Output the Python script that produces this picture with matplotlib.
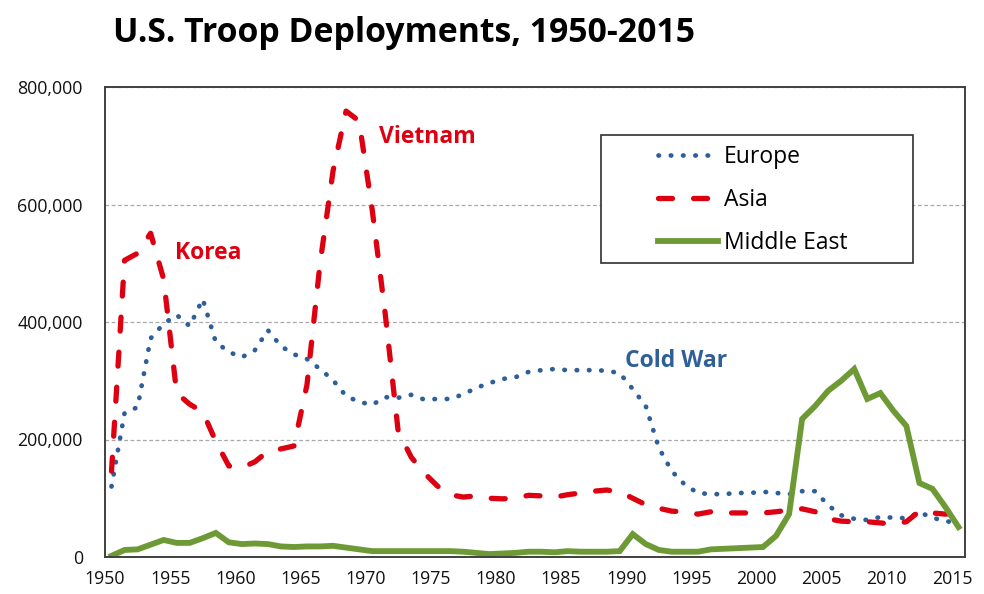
import numpy as np
import matplotlib
matplotlib.use("Agg")
import matplotlib.pyplot as plt
from matplotlib.patches import Rectangle

# Troop counts by region (thousands)
years = np.arange(1950, 2016)
europe = [120, 245, 255, 372, 397, 412, 393, 439, 366, 349,
          340, 352, 386, 359, 345, 337, 320, 301, 274, 264,
          259, 272, 271, 276, 268, 269, 269, 277, 288, 296,
          303, 306, 315, 318, 320, 318, 318, 318, 317, 313,
          286, 257, 186, 146, 123, 109, 107, 107, 109, 109,
          111, 109, 107, 112, 112, 88, 71, 65, 63, 68,
          67, 66, 76, 67, 61, 58]
asia = [146, 505, 517, 551, 473, 279, 260, 247, 197, 155,
        152, 162, 180, 184, 189, 293, 499, 657, 759, 742,
        592, 415, 214, 170, 143, 121, 106, 102, 104, 100,
        99, 100, 105, 104, 102, 106, 109, 112, 114, 111,
        100, 89, 83, 78, 77, 73, 77, 75, 75, 75,
        75, 77, 80, 82, 77, 65, 61, 60, 60, 58,
        56, 60, 78, 75, 73, 75]
middle_east = [2, 12, 13, 21, 29, 24, 24, 32, 41, 25,
               22, 23, 22, 18, 17, 18, 18, 19, 16, 13,
               10, 10, 10, 10, 10, 10, 10, 9, 7, 5,
               6, 7, 9, 9, 8, 10, 9, 9, 9, 10,
               39, 22, 12, 9, 9, 9, 13, 14, 15, 16,
               17, 36, 73, 235, 257, 283, 300, 320, 269, 279,
               249, 223, 126, 116, 85, 51]

series_names = ["Europe", "Asia", "Middle East"]
blue = "#2F5F98"
red = "#DD0010"
green = "#6E9A35"

plt.rcParams["font.family"] = ["Open Sans", "DejaVu Sans"]

fig = plt.figure(figsize=(9.84, 5.94), dpi=100)
ax = fig.add_axes([105 / 984, 1 - 557 / 594, 860 / 984, 470 / 594])

# points sit in the middle of each year slot
x = years + 0.5
ax.plot(x, np.array(europe) * 1000, color=blue, lw=3.4,
        linestyle=(0, (0.1, 2.5)), dash_capstyle="round", label=series_names[0])
ax.plot(x, np.array(asia) * 1000, color=red, lw=3.8,
        linestyle=(0, (2.65, 4.0)), dash_capstyle="round", label=series_names[1])
ax.plot(x, np.array(middle_east) * 1000, color=green, lw=4.2,
        solid_joinstyle="miter", label=series_names[2])

ax.set_xlim(1950, 2016)
ax.set_ylim(0, 800000)
ax.set_xticks(range(1950, 2016, 5))
ax.set_xticks(range(1960, 2011, 10), minor=True)
ax.set_yticks(range(0, 800001, 200000))
ax.yaxis.set_major_formatter(matplotlib.ticker.FuncFormatter(lambda v, p: f"{int(v):,}"))
ax.tick_params(axis="both", which="both", length=0, labelsize=12.8, colors="#111111")
ax.tick_params(axis="y", pad=16)
ax.tick_params(axis="x", pad=9)
ax.grid(axis="y", which="major", color="#A8A8A8", lw=0.9, linestyle=(0, (3, 2)))
ax.grid(axis="x", which="minor", color="#A8A8A8", lw=0.9, linestyle=(0, (3, 2)))
for s in ax.spines.values():
    s.set_color("#404040")
    s.set_linewidth(1.4)

# annotations
ax.text(1955.4, 517000, "Korea", color=red, fontsize=16.5, fontweight="bold", ha="left", va="center")
ax.text(1971.0, 715000, "Vietnam", color=red, fontsize=16.5, fontweight="bold", ha="left", va="center")
ax.text(1989.9, 334000, "Cold War", color=blue, fontsize=16.5, fontweight="bold", ha="left", va="center")

# legend box
ax.add_patch(Rectangle((496 / 860, (557 - 263) / 470), 312 / 860, 128 / 470,
                       transform=ax.transAxes, facecolor="white", edgecolor="#303030",
                       lw=1.2, zorder=5))
leg = ax.legend(loc="center left", bbox_to_anchor=((658 - 105) / 860, (557 - 200) / 470),
                frameon=False, fontsize=16.5, handlelength=2.6, handletextpad=0.26,
                labelspacing=0.82, borderpad=0, borderaxespad=0)
leg.set_zorder(6)

fig.text(113 / 984, 1 - 33 / 594, "U.S. Troop Deployments, 1950-2015",
         fontsize=24.3, fontweight="bold", ha="left", va="center")

fig.savefig("out.png", dpi=100)
